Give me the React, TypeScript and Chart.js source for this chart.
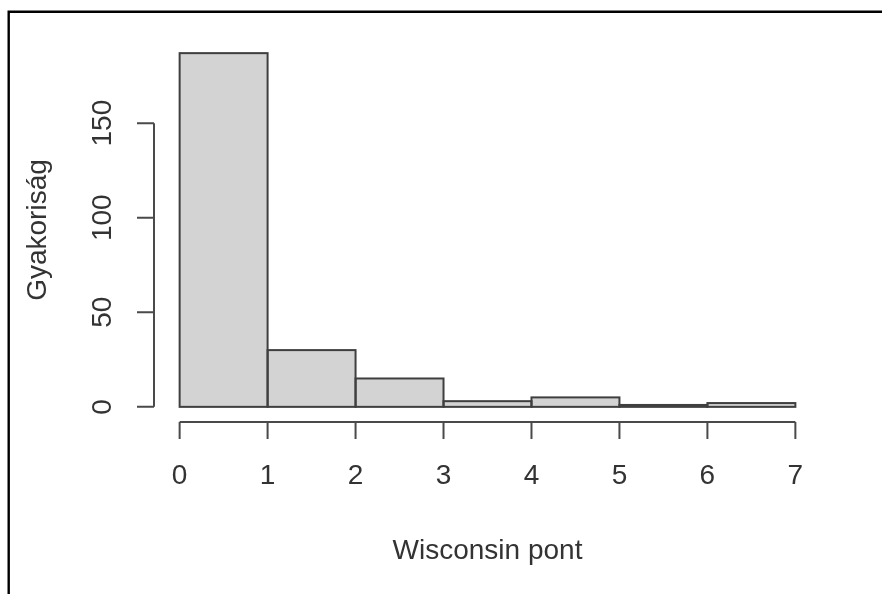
import React, { useEffect, useRef } from "react";
import { Chart, registerables } from "chart.js";

Chart.register(...registerables);

// Histogram bins (Wisconsin pont) and counts (Gyakoriság)
const binStarts = [0, 1, 2, 3, 4, 5, 6];
const binEnds = [1, 2, 3, 4, 5, 6, 7];
const counts = [187, 30, 15, 3, 5, 1, 2];
const xTicks = [0, 1, 2, 3, 4, 5, 6, 7];
const yTicks = [0, 50, 100, 150];
const xTitle = "Wisconsin pont";
const yTitle = "Gyakoriság";

const FONT = "28px 'Liberation Sans', Arial, sans-serif";
const TEXT = "#333333";
const AXIS = "#4a4a4a";

const rAxesPlugin = {
  id: "rAxes",
  afterDatasetsDraw(chart: any) {
    const ctx = chart.ctx;
    const meta = chart.getDatasetMeta(0);
    ctx.save();
    ctx.strokeStyle = "#3f3f3f";
    ctx.lineWidth = 2;
    meta.data.forEach((el: any) => {
      const p = el.getProps(["x", "y", "base", "width"], true);
      ctx.strokeRect(p.x - p.width / 2, p.y, p.width, p.base - p.y);
    });
    ctx.restore();
  },
  afterDraw(chart: any) {
    const ctx = chart.ctx;
    const xs = chart.scales.x;
    const ys = chart.scales.y;
    const area = chart.chartArea;
    ctx.save();
    // frame (left + top)
    ctx.strokeStyle = "#000000";
    ctx.lineWidth = 2.4;
    ctx.beginPath();
    ctx.moveTo(8.7, 600);
    ctx.lineTo(8.7, 11.8);
    ctx.lineTo(900, 11.8);
    ctx.stroke();

    ctx.strokeStyle = AXIS;
    ctx.lineWidth = 2;
    ctx.fillStyle = TEXT;
    ctx.font = FONT;

    // y axis
    const yx = area.left - 1;
    const y0 = ys.getPixelForValue(yTicks[0]);
    const y1 = ys.getPixelForValue(yTicks[yTicks.length - 1]);
    ctx.beginPath();
    ctx.moveTo(yx, y0);
    ctx.lineTo(yx, y1);
    yTicks.forEach((v) => {
      const py = ys.getPixelForValue(v);
      ctx.moveTo(yx, py);
      ctx.lineTo(yx - 17, py);
    });
    ctx.stroke();
    yTicks.forEach((v) => {
      const py = ys.getPixelForValue(v);
      ctx.save();
      ctx.translate(111, py);
      ctx.rotate(-Math.PI / 2);
      ctx.textAlign = "center";
      ctx.textBaseline = "alphabetic";
      ctx.fillText(String(v), 0, 0);
      ctx.restore();
    });

    // x axis
    const xy = area.bottom + 1;
    const x0 = xs.getPixelForValue(xTicks[0]);
    const x1 = xs.getPixelForValue(xTicks[xTicks.length - 1]);
    ctx.beginPath();
    ctx.moveTo(x0, xy);
    ctx.lineTo(x1, xy);
    xTicks.forEach((v) => {
      const px = xs.getPixelForValue(v);
      ctx.moveTo(px, xy);
      ctx.lineTo(px, xy + 17);
    });
    ctx.stroke();
    ctx.textAlign = "center";
    ctx.textBaseline = "alphabetic";
    xTicks.forEach((v) => {
      const px = xs.getPixelForValue(v);
      ctx.fillText(String(v), px, 484);
    });

    // titles
    ctx.fillText(xTitle, (area.left + area.right) / 2, 559);
    ctx.save();
    ctx.translate(46, (area.top + area.bottom) / 2);
    ctx.rotate(-Math.PI / 2);
    ctx.fillText(yTitle, 0, 0);
    ctx.restore();

    ctx.restore();
  },
};

export default function App() {
  const ref = useRef<HTMLCanvasElement | null>(null);
  useEffect(() => {
    if (!ref.current) return;
    const data = binStarts.map((s, i) => ({ x: (s + binEnds[i]) / 2, y: counts[i] }));
    const chart = new Chart(ref.current, {
      type: "bar",
      data: {
        datasets: [
          {
            data: data as any,
            backgroundColor: "#D3D3D3",
            borderWidth: 0,
            barPercentage: 1,
            categoryPercentage: 1,
          },
        ],
      },
      options: {
        animation: false,
        responsive: false,
        maintainAspectRatio: false,
        events: [],
        layout: { padding: { left: 155, right: 62, top: 39, bottom: 173 } },
        plugins: { legend: { display: false }, tooltip: { enabled: false }, title: { display: false } },
        scales: {
          x: { type: "linear", min: -0.28, max: 7.28, offset: false, display: false },
          y: { type: "linear", min: -7.48, max: 194.48, display: false },
        },
      },
      plugins: [rAxesPlugin],
    });
    return () => chart.destroy();
  }, []);
  return (
    <div style={{ position: "absolute", left: 0, top: 0, width: 882, height: 594, background: "#fff" }}>
      <canvas ref={ref} width={882} height={594} style={{ display: "block", width: 882, height: 594 }} />
    </div>
  );
}
